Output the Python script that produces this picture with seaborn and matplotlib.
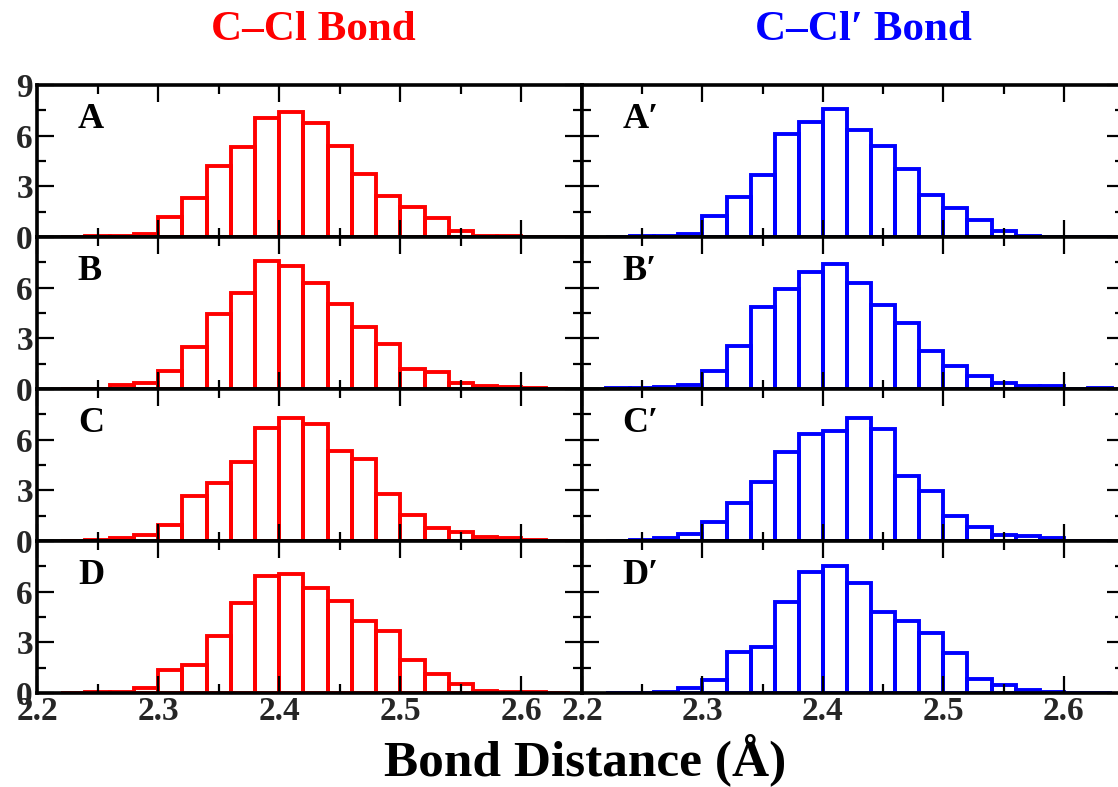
import numpy as np
import seaborn as sns
import matplotlib.pyplot as plt
from matplotlib.ticker import MultipleLocator, FixedLocator

# ---------------- data ----------------
bin_starts = [2.22, 2.24, 2.26, 2.28, 2.30, 2.32, 2.34, 2.36, 2.38, 2.40, 2.42,
              2.44, 2.46, 2.48, 2.50, 2.52, 2.54, 2.56, 2.58, 2.60, 2.62]
bin_width = 0.02

ccl_A = [0.02, 0.03, 0.08, 0.20, 1.20, 2.30, 4.20, 5.35, 7.07, 7.43, 6.75,
         5.40, 3.73, 2.45, 1.77, 1.10, 0.38, 0.06, 0.03, 0.02, 0.0]
ccl_B = [0.0, 0.0, 0.22, 0.38, 1.06, 2.50, 4.46, 5.70, 7.58, 7.26, 6.26,
         5.06, 3.66, 2.66, 1.20, 1.00, 0.36, 0.20, 0.10, 0.06, 0.02]
ccl_C = [0.0, 0.04, 0.16, 0.36, 0.96, 2.66, 3.46, 4.66, 6.70, 7.28, 6.92,
         5.30, 4.88, 2.78, 1.54, 0.76, 0.52, 0.22, 0.18, 0.08, 0.02]
ccl_D = [0.0, 0.06, 0.08, 0.30, 1.38, 1.68, 3.40, 5.30, 6.90, 7.03, 6.24,
         5.43, 4.24, 3.70, 1.98, 1.15, 0.53, 0.14, 0.04, 0.04, 0.0]

cclp_A = [0.02, 0.08, 0.06, 0.20, 1.22, 2.34, 3.66, 6.08, 6.80, 7.60, 6.32,
          5.36, 4.02, 2.46, 1.74, 0.98, 0.34, 0.08, 0.02, 0.02, 0.0]
cclp_B = [0.04, 0.08, 0.12, 0.26, 1.08, 2.52, 4.86, 5.90, 6.94, 7.42, 6.30,
          5.00, 3.92, 2.26, 1.38, 0.78, 0.36, 0.16, 0.16, 0.0, 0.04]
cclp_C = [0.0, 0.04, 0.20, 0.40, 1.10, 2.24, 3.52, 5.26, 6.34, 6.54, 7.28,
          6.66, 3.82, 2.96, 1.46, 0.82, 0.38, 0.28, 0.18, 0.0, 0.02]
cclp_D = [0.0, 0.02, 0.08, 0.28, 0.78, 2.44, 2.74, 5.40, 7.18, 7.54, 6.54,
          4.82, 4.24, 3.56, 2.34, 0.84, 0.46, 0.20, 0.06, 0.0, 0.0]

left_labels = ["A", "B", "C", "D"]
right_labels = ["A\u2032", "B\u2032", "C\u2032", "D\u2032"]
col_titles = ["C\u2013Cl Bond", "C\u2013Cl\u2032 Bond"]
col_colors = ["#ff0000", "#0000ff"]
x_ticks = [2.2, 2.3, 2.4, 2.5, 2.6]
x_ticklabels = ["2.2", "2.3", "2.4", "2.5", "2.6"]
y_ticks = [0, 3, 6, 9]
xlabel = "Bond Distance (\u00c5)"

# ---------------- style ----------------
sns.set_style("ticks")
plt.rcParams["font.family"] = ["Liberation Serif", "DejaVu Serif"]
plt.rcParams["font.weight"] = "bold"

W, H = 1118, 787
fig = plt.figure(figsize=(W / 100, H / 100), dpi=100)

edges = bin_starts + [round(bin_starts[-1] + bin_width, 2)]
centers = [b + bin_width / 2 for b in bin_starts]

columns = [(ccl_A, ccl_B, ccl_C, ccl_D), (cclp_A, cclp_B, cclp_C, cclp_D)]
labels = [left_labels, right_labels]
col_x = [(37, 545), (582, 542)]
top0, row_h = 85, 152

for c in range(2):
    for r in range(4):
        x0, w = col_x[c]
        top = top0 + row_h * r
        ax = fig.add_axes([x0 / W, 1 - (top + row_h) / H, w / W, row_h / H])
        sns.histplot(x=centers, weights=columns[c][r], bins=edges, fill=False,
                     element="bars", color=col_colors[c], linewidth=2.8, ax=ax)
        ax.set_axisbelow(False)
        ax.set_xlim(2.2, 2.65)
        ax.set_ylim(0, 9)
        ax.set_xlabel("")
        ax.set_ylabel("")
        ax.xaxis.set_major_locator(FixedLocator(x_ticks))
        ax.xaxis.set_minor_locator(MultipleLocator(0.05))
        ax.yaxis.set_major_locator(FixedLocator(y_ticks))
        ax.yaxis.set_minor_locator(MultipleLocator(1.5))
        ax.tick_params(which="both", direction="in", top=True, right=True,
                       width=1.6, color="black")
        ax.tick_params(which="major", length=12)
        ax.tick_params(which="minor", length=6.5)
        for s in ax.spines.values():
            s.set_linewidth(2.6)
            s.set_color("black")
        if r == 3:
            ax.set_xticklabels(x_ticklabels, fontsize=24, fontweight="bold")
            ax.tick_params(axis="x", pad=2)
        else:
            ax.set_xticklabels([])
        if c == 0:
            ylabs = ["0", "3", "6", "9"] if r == 0 else ["0", "3", "6", ""]
            ax.set_yticklabels(ylabs, fontsize=24, fontweight="bold")
            ax.tick_params(axis="y", pad=3)
        else:
            ax.set_yticklabels([])
        ax.text(0.075, 0.77, labels[c][r], transform=ax.transAxes,
                fontsize=26, fontweight="bold", ha="left", va="center",
                color="black")

fig.text(313 / W, 1 - 30 / H, col_titles[0], color=col_colors[0], fontsize=31,
         fontweight="bold", ha="center", va="center")
fig.text(863 / W, 1 - 30 / H, col_titles[1], color=col_colors[1], fontsize=31,
         fontweight="bold", ha="center", va="center")
fig.text(585 / W, 1 - 760 / H, xlabel, color="black", fontsize=37,
         fontweight="bold", ha="center", va="center")

fig.savefig("out.png", dpi=100)
